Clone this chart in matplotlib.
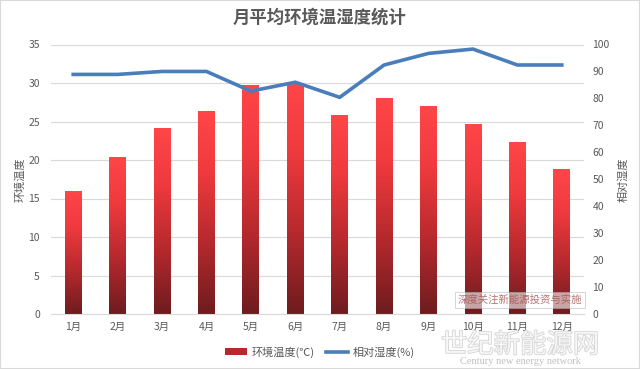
import matplotlib
matplotlib.use("Agg")
import matplotlib.pyplot as plt
import matplotlib.patheffects as pe
import numpy as np
from matplotlib.lines import Line2D
from matplotlib.patches import Patch, Rectangle
from matplotlib.colors import LinearSegmentedColormap

plt.rcParams['font.family'] = ['Noto Sans CJK SC', 'DejaVu Sans']

months = ['1月', '2月', '3月', '4月', '5月', '6月', '7月', '8月', '9月', '10月', '11月', '12月']
temperature = [16.0, 20.4, 24.1, 26.3, 29.8, 30.0, 25.9, 28.0, 27.0, 24.7, 22.3, 18.8]
humidity = [88.9, 88.9, 90.0, 90.0, 82.7, 86.0, 80.4, 92.4, 96.7, 98.3, 92.4, 92.4]
left_ticks = [0, 5, 10, 15, 20, 25, 30, 35]
right_ticks = [0, 10, 20, 30, 40, 50, 60, 70, 80, 90, 100]

title = '月平均环境温湿度统计'
temp_label = '环境温度(℃)'
hum_label = '相对湿度(%)'
left_axis_title = '环境温度'
right_axis_title = '相对湿度'

W, H = 640, 369
fig = plt.figure(figsize=(W / 100, H / 100), dpi=100)
ax = fig.add_axes([51 / W, 1 - 314 / H, (584 - 51) / W, (314 - 44.5) / H])
ax2 = ax.twinx()

gray = '#595959'
x = np.arange(len(months))

bars = ax.bar(x, temperature, width=0.38, color='none', edgecolor='none', zorder=2)
ax.set_xlim(-0.5, len(months) - 0.5)
ax.set_ylim(0, 35)

grad = np.linspace(0, 1, 256).reshape(-1, 1)
cmap = LinearSegmentedColormap.from_list(
    'redgrad', [(0.0, '#6e1c1f'), (0.35, '#b5292d'), (0.7, '#ef3a3e'), (1.0, '#ff4649')])
for b in bars:
    im = ax.imshow(grad, cmap=cmap, aspect='auto', origin='lower',
                   extent=[b.get_x(), b.get_x() + b.get_width(), 0, b.get_height()], zorder=2)
    im.set_clip_path(b)

ax.set_yticks(left_ticks)
ax.grid(axis='y', color='#d9d9d9', linewidth=0.8, zorder=0)
ax.set_axisbelow(True)
ax.set_xticks(x)
ax.set_xticklabels(months)
for s in ['top', 'right', 'left']:
    ax.spines[s].set_visible(False)
ax.spines['bottom'].set_color('#d9d9d9')
ax.tick_params(axis='both', length=0, colors=gray, labelsize=7.5)
ax.tick_params(axis='y', pad=8)
ax.tick_params(axis='x', pad=6)

ax2.plot(x, humidity, color='#4a7ebb', linewidth=2.6, zorder=3, solid_joinstyle='miter')
ax2.set_ylim(0, 100)
ax2.set_yticks(right_ticks)
for s in ax2.spines.values():
    s.set_visible(False)
ax2.tick_params(axis='y', length=0, colors=gray, labelsize=7.5, pad=6)

ax.set_ylabel(left_axis_title, color=gray, fontsize=8, labelpad=2)
ax2.set_ylabel(right_axis_title, color=gray, fontsize=8, rotation=90, labelpad=6)

fig.text(0.5, 1 - 18 / H, title, ha='center', va='center', fontsize=12.5,
         color=gray, fontweight='bold')

handles = [Patch(facecolor='#b5292d', edgecolor='none'),
           Line2D([0], [0], color='#4a7ebb', linewidth=2.6)]
fig.legend(handles, [temp_label, hum_label], loc='center', bbox_to_anchor=(0.5, 1 - 352 / H),
           ncol=2, frameon=False, fontsize=8, handlelength=2.0, handleheight=0.6,
           columnspacing=1.0, handletextpad=0.4, labelcolor=gray)

# watermark
fig.text(520 / W, 1 - 300 / H, '深度关注新能源投资与实施', ha='center', va='center',
         fontsize=7.5, color='#a05050', alpha=0.8,
         bbox=dict(boxstyle='square,pad=0.25', facecolor='white', alpha=0.6,
                   edgecolor='#b0b0b0', linewidth=0.6))
fig.text(520 / W, 1 - 345 / H, '世纪新能源网', ha='center', va='center', fontsize=19,
         color='white', alpha=0.75,
         path_effects=[pe.withStroke(linewidth=1.2, foreground='#c8c8c8')])
fig.text(520 / W, 1 - 362 / H, 'Century new energy network', ha='center', va='center',
         fontsize=7.5, color='#c0c0c0', family='Liberation Serif')

fig.patches.append(Rectangle((0, 0), 1, 1, transform=fig.transFigure, fill=False,
                             edgecolor='#d9d9d9', linewidth=1.5))

fig.savefig('out.png', dpi=100)
